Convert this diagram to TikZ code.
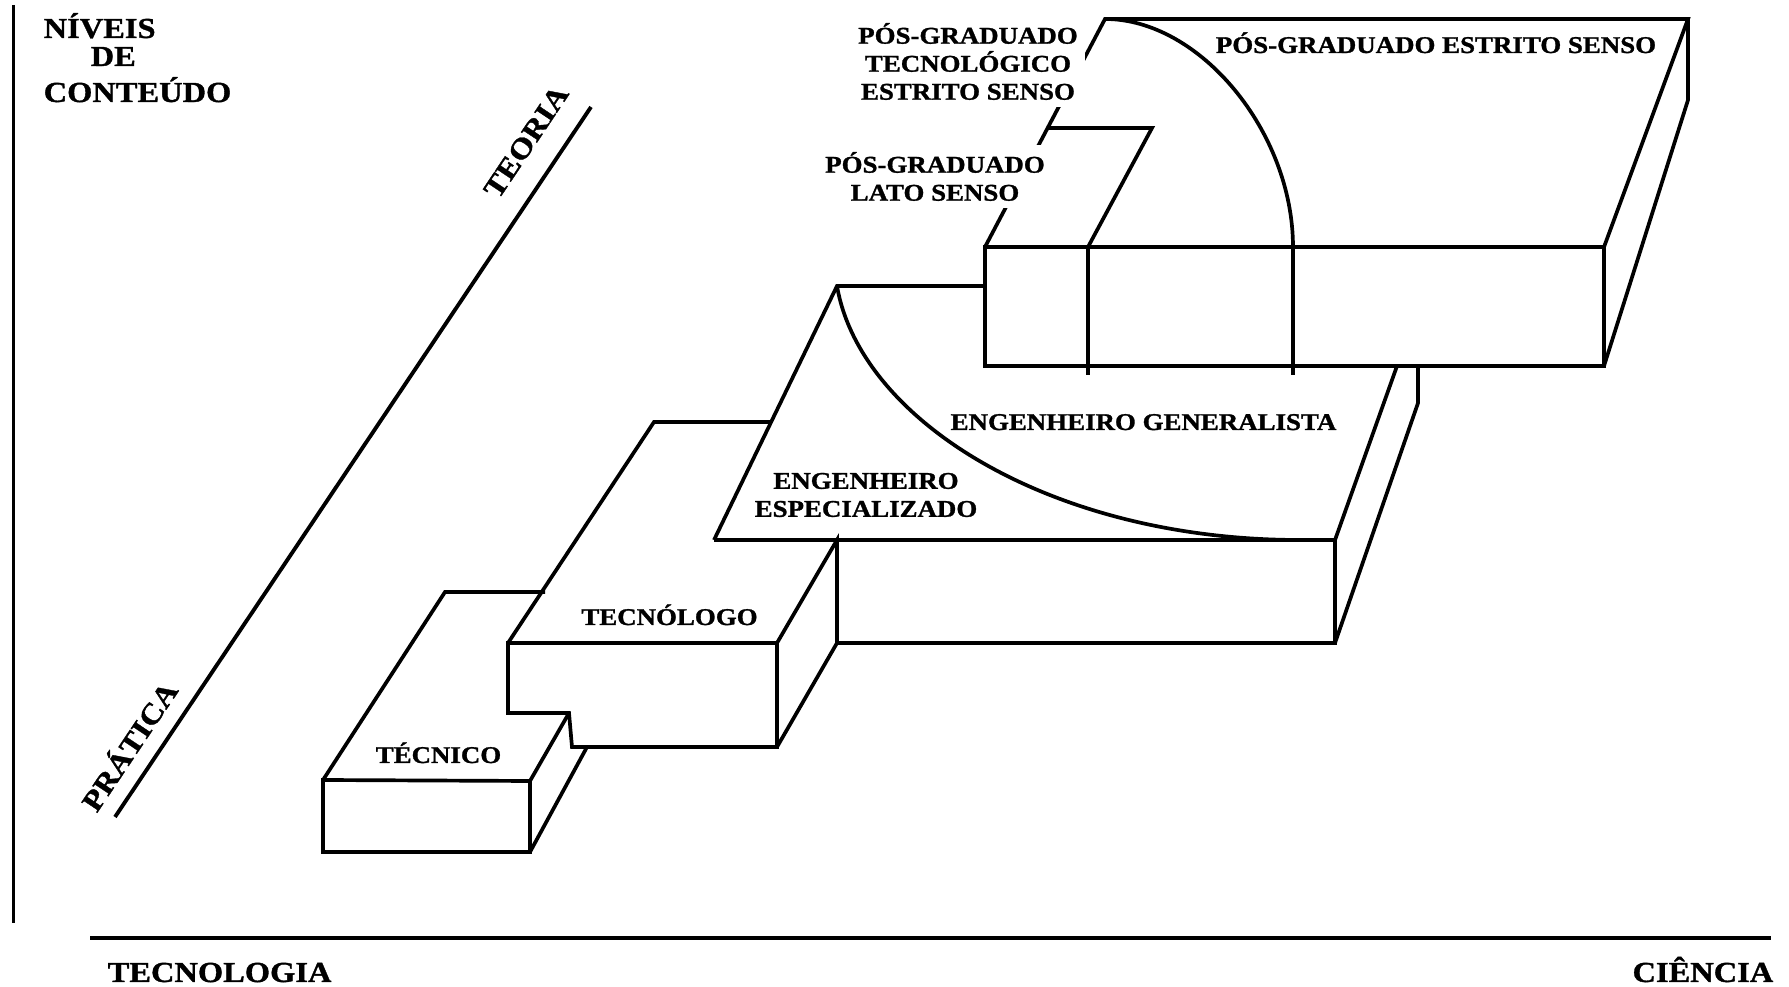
\documentclass[tikz,border=0pt]{standalone}
\usepackage{fontspec}
\setmainfont{Liberation Serif}[FakeStretch=1.12, BoldFeatures={FakeBold=1.2}]
\usetikzlibrary{positioning,calc}

\begin{document}
\begin{tikzpicture}[
    blockline/.style={draw=black, line width=1.05pt, line join=miter},
    axisline/.style={draw=black, line width=1.1pt},
    lbl/.style={font=\bfseries\fontsize{6.83}{7.97}\selectfont, inner sep=0pt, align=center},
    axislbl/.style={font=\bfseries\fontsize{8.25}{9.5}\selectfont, inner sep=0pt},
    cover/.style={lbl, fill=white, inner sep=2pt}
]
    \useasboundingbox (0,0) rectangle (17.89,9.87);

    % Axes
    \coordinate (vtop) at (0.135, 9.82);
    \coordinate (vbot) at (0.135, 0.64);
    \coordinate (hleft) at (0.90, 0.49);
    \coordinate (hright) at (17.71, 0.49);
    \coordinate (plo) at (1.15, 1.70);
    \coordinate (phi) at (5.91, 8.80);

    \draw[axisline] (vtop) -- (vbot);
    \draw[axisline] (hleft) -- (hright);
    \draw[axisline] (plo) -- (phi);

    \node[axislbl, anchor=base west] (niveis) at (0.43, 9.49) {NÍVEIS};
    \node[axislbl, anchor=base west] (de) at (0.90, 9.21) {DE};
    \node[axislbl, anchor=base west] (conteudo) at (0.43, 8.85) {CONTEÚDO};
    \node[axislbl, anchor=base west] (tecnologia) at (1.07, 0.05) {TECNOLOGIA};
    \node[axislbl, anchor=base east] (ciencia) at (17.74, 0.05) {CIÊNCIA};
    \node[axislbl, anchor=base, rotate=56.2] (teoria) at (5.34, 8.40) {TEORIA};
    \node[axislbl, anchor=base, rotate=56.2] (pratica) at (1.38, 2.35) {PRÁTICA};

    % Corner points
    \coordinate (t1) at (3.23, 2.07);
    \coordinate (t2) at (5.30, 2.06);
    \coordinate (t3) at (5.30, 1.35);
    \coordinate (t4) at (3.23, 1.35);
    \coordinate (t5) at (4.45, 3.95);
    \coordinate (t6) at (5.45, 3.95);
    \coordinate (t8) at (5.87, 2.40);

    \coordinate (g1) at (5.08, 3.44);
    \coordinate (g2) at (7.77, 3.44);
    \coordinate (g3) at (7.77, 2.40);
    \coordinate (g4) at (5.72, 2.40);
    \coordinate (g5) at (5.69, 2.74);
    \coordinate (g6) at (5.08, 2.74);
    \coordinate (g7) at (6.54, 5.65);
    \coordinate (g8) at (7.71, 5.65);
    \coordinate (g9) at (8.37, 4.47);
    \coordinate (g10) at (8.37, 3.44);

    \coordinate (e1) at (7.14, 4.47);
    \coordinate (e2) at (8.37, 7.01);
    \coordinate (e3) at (9.85, 7.01);
    \coordinate (e4) at (13.35, 4.47);
    \coordinate (e5) at (13.35, 3.44);
    \coordinate (e6) at (13.97, 6.21);
    \coordinate (e7) at (14.18, 5.84);
    \coordinate (e8) at (14.18, 6.21);

    \coordinate (p1) at (9.85, 7.40);
    \coordinate (p2) at (16.04, 7.40);
    \coordinate (p3) at (16.04, 6.21);
    \coordinate (p4) at (9.85, 6.21);
    \coordinate (p5) at (11.05, 9.68);
    \coordinate (p6) at (16.88, 9.68);
    \coordinate (p7) at (16.88, 8.87);
    \coordinate (l1) at (10.48, 8.59);
    \coordinate (l2) at (11.52, 8.59);

    % Tecnico
    \draw[blockline] (t4) -- (t1) -- (t2) -- (t3) -- cycle;
    \draw[blockline] (t1) -- (t5) -- (t6);
    \draw[blockline] (t2) -- (g5);
    \draw[blockline] (t3) -- (t8);

    % Tecnologo
    \draw[blockline] (g1) -- (g2) -- (g3) -- (g4) -- (g5) -- (g6) -- cycle;
    \draw[blockline] (g1) -- (g7) -- (g8);
    \draw[blockline] (g2) -- (g9) -- (g10) -- (g3);

    % Engenheiro
    \draw[blockline] (e1) -- (e2) -- (e3);
    \draw[blockline] (e1) -- (e4) -- (e5) -- (g10);
    \draw[blockline] (e4) -- (e6);
    \draw[blockline] (e5) -- (e7) -- (e8);
    \draw[blockline] (e2) .. controls (8.60, 5.67) and (10.50, 4.47) .. (13.00, 4.47);

    % Pos-graduado
    \draw[blockline] (p1) -- (p2) -- (p3) -- (p4) -- cycle;
    \draw[blockline] (p1) -- (p5) -- (p6) -- (p2);
    \draw[blockline] (p6) -- (p7) -- (p3);
    \draw[blockline] (l1) -- (l2) -- (10.88, 7.40);
    \foreach \x in {10.88, 12.93} {
        \draw[blockline] (\x, 7.40) -- (\x, 6.12);
    }
    \draw[blockline] (p5) .. controls (12.00, 9.68) and (12.93, 8.55) .. (12.93, 7.40);

    % Labels
    \node[lbl, anchor=base] (tecnico) at (4.385, 2.24) {TÉCNICO};
    \node[lbl, anchor=base] (tecnologo) at (6.695, 3.62) {TECNÓLOGO};
    \node[lbl, anchor=base] (generalista) at (11.435, 5.57) {ENGENHEIRO GENERALISTA};
    \node[lbl] (especializado) at (8.66, 4.92) {ENGENHEIRO\\ESPECIALIZADO};
    \node[cover] (lato) at (9.35, 8.105) {PÓS-GRADUADO\\LATO SENSO};
    \node[cover] (tecestrito) at (9.68, 9.255) {PÓS-GRADUADO\\TECNOLÓGICO\\ESTRITO SENSO};
    \node[lbl, anchor=base] (estrito) at (14.36, 9.34) {PÓS-GRADUADO ESTRITO SENSO};

\end{tikzpicture}
\end{document}
